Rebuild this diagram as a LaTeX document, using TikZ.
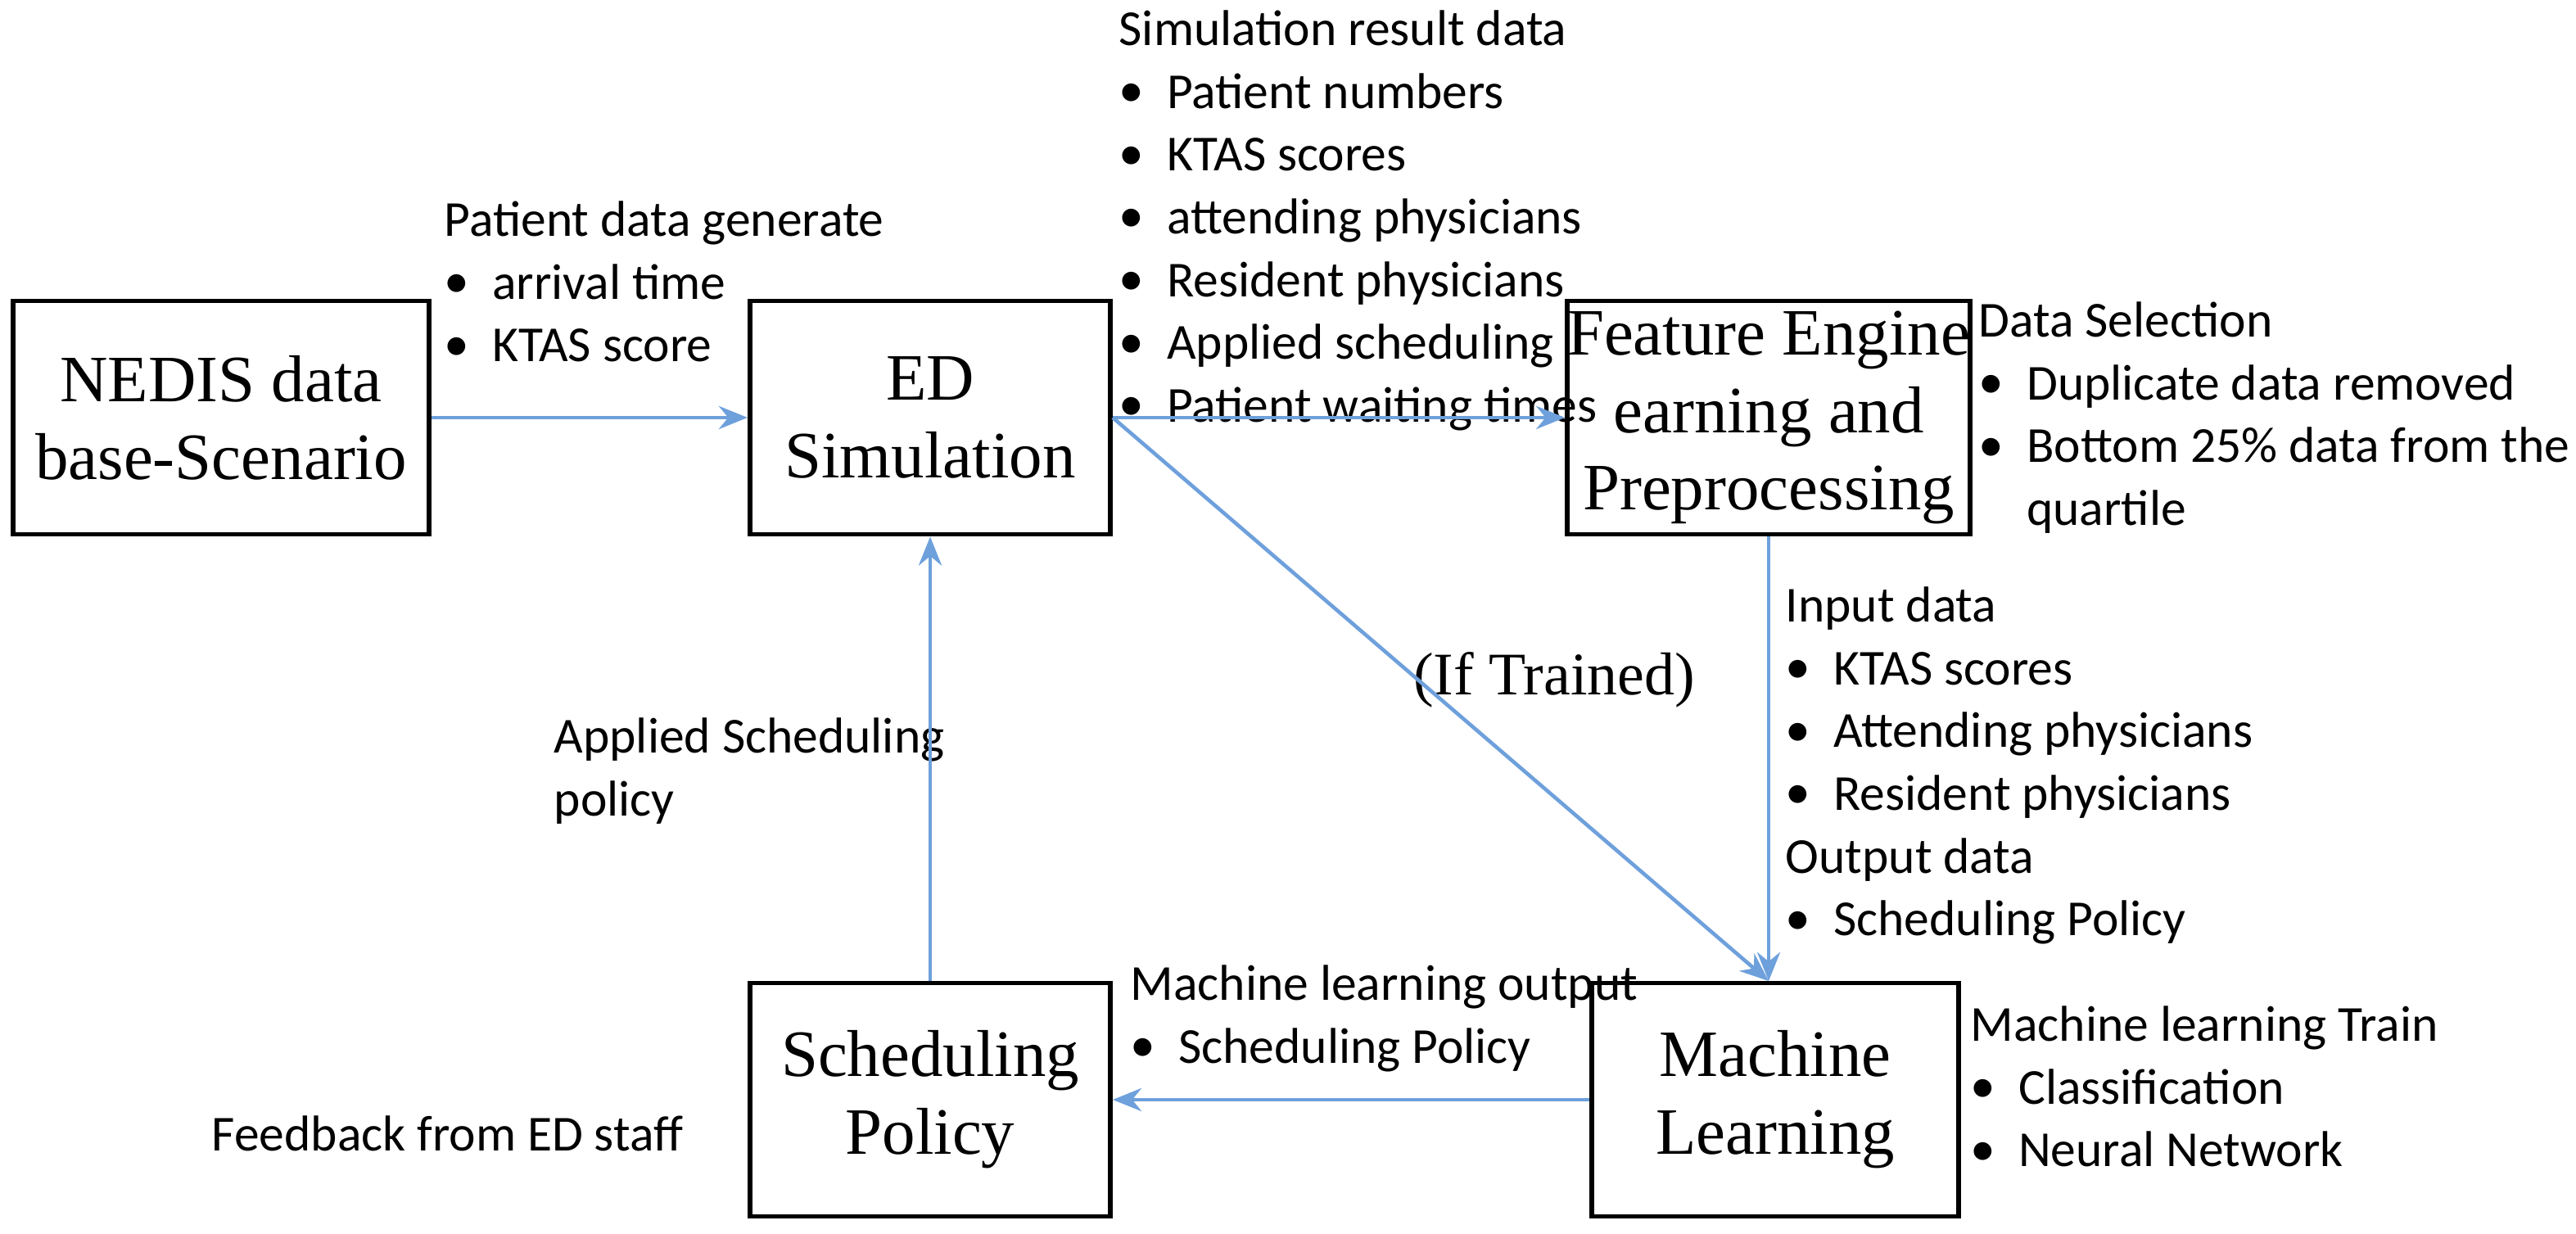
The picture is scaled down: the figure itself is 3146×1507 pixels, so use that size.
\documentclass[tikz,border=0pt]{standalone}
\usepackage{fontspec}
\setmainfont{Liberation Serif}
\newfontfamily\lst{Carlito}
\usetikzlibrary{arrows.meta}
\begin{document}
\begin{tikzpicture}[x=0.01cm,y=-0.01cm,
 box/.style={draw,line width=1.6pt,minimum height=2.85cm,align=center,font=\fontsize{23}{27}\selectfont,inner sep=0pt},
 lst/.style={anchor=north west,align=left,font=\lst\fontsize{17.5}{21.8}\selectfont,inner sep=0pt},
 con/.style={draw={rgb,255:red,110;green,160;blue,220},line width=1.3pt,-{Stealth[length=10pt,width=8pt]}}]
\useasboundingbox (0,0) rectangle (3146,1507);
\node[box,minimum width=5.08cm] (ned) at (270,510) {NEDIS data\\base-Scenario};
\node[box,minimum width=4.4cm] (ed) at (1136,510) {ED\\Simulation};
\node[box,minimum width=4.6cm] (fe) at (2160,510) {Feature Engine\\earning and\\Preprocessing};
\node[box,minimum width=4.4cm] (sp) at (1136,1343) {Scheduling\\Policy};
\node[box,minimum width=4.48cm] (ml) at (2168,1343) {Machine\\Learning};
\newcommand{\bl}{\raisebox{0.05ex}{\textbullet}\ \ }
\node[lst] (t1) at (542,245) {Patient data generate\\\bl arrival time\\\bl KTAS score};
\node[lst] (t2) at (1366,12) {Simulation result data\\\bl Patient numbers\\\bl KTAS scores\\\bl attending physicians\\\bl Resident physicians\\\bl Applied scheduling\\\bl Patient waiting times};
\node[lst] (t3) at (2416,368) {Data Selection\\\bl Duplicate data removed\\\bl Bottom 25\% data from the\\\phantom{\bl}quartile};
\node[lst] (t4) at (2180,716) {Input data\\\bl KTAS scores\\\bl Attending physicians\\\bl Resident physicians\\Output data\\\bl Scheduling Policy};
\node[lst] (t5) at (1380,1178) {Machine learning output\\\bl Scheduling Policy};
\node[lst] (t6) at (2406,1228) {Machine learning Train\\\bl Classification\\\bl Neural Network};
\node[lst] (t7) at (676,876) {Applied Scheduling\\policy};
\node[lst,anchor=west] (t8) at (258,1384) {Feedback from ED staff};
\node[font=\fontsize{21}{26}\selectfont] (it) at (1898,830) {(If Trained)};
\draw[con] (ned.east) -- (ed.west);
\draw[con] (ed.east) -- (fe.west);
\draw[con] (ed.east) -- (2160,1198);
\draw[con] (fe.south -| 2160,0) -- (2160,1198);
\draw[con] (ml.west) -- (sp.east);
\draw[con] (sp.north) -- (ed.south);
\end{tikzpicture}
\end{document}
